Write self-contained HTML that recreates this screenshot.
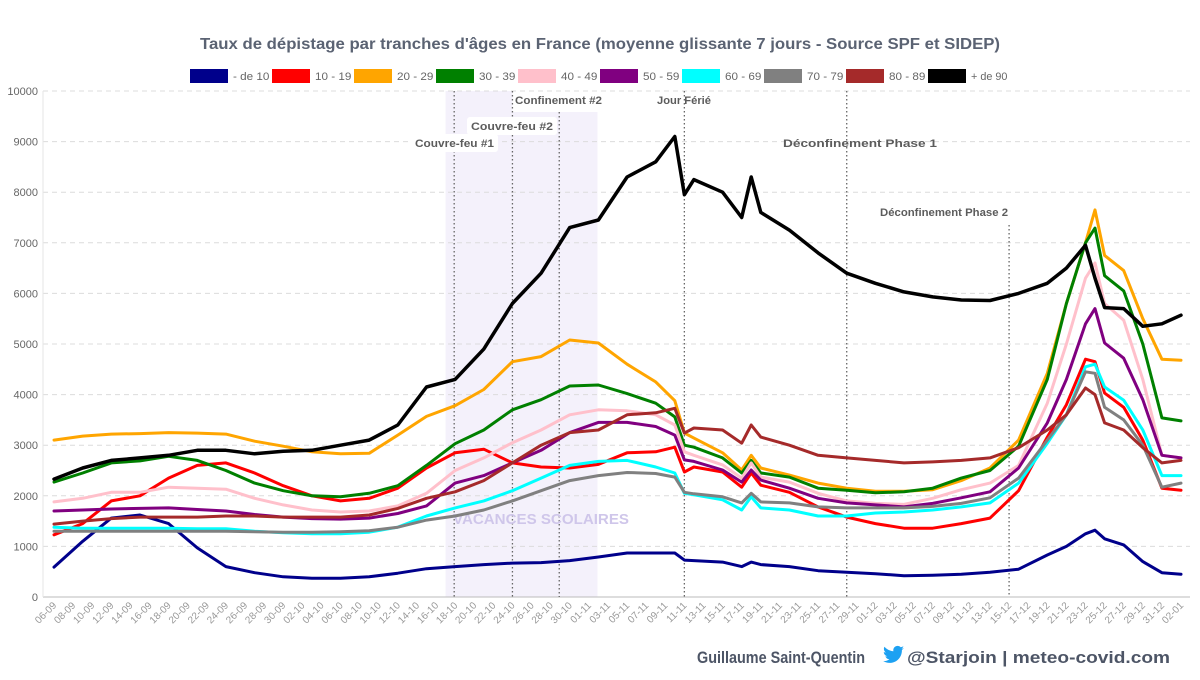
<!DOCTYPE html>
<html><head><meta charset="utf-8">
<style>
html,body{margin:0;padding:0;background:#fff;}
body{width:1200px;height:675px;overflow:hidden;font-family:"Liberation Sans",sans-serif;}
svg text{font-family:"Liberation Sans",sans-serif;}
</style></head>
<body>
<svg id="chart" width="1200" height="675" viewBox="0 0 1200 675" xmlns="http://www.w3.org/2000/svg">
<text x="200" y="49" textLength="800" lengthAdjust="spacingAndGlyphs" font-size="15.5" font-weight="bold" fill="#5b6373">Taux de dépistage par tranches d'âges en France (moyenne glissante 7 jours - Source SPF et SIDEP)</text>
<g id="bands"></g>
<g id="grid"></g>
<g id="events"></g>
<text x="453" y="524" textLength="176" lengthAdjust="spacingAndGlyphs" font-size="14.5" font-weight="bold" fill="#cfc6ea">VACANCES SCOLAIRES</text>
<g id="series"></g>
<g id="legend"></g>
<g id="xlabels"></g>
<g>
<text x="697" y="663" textLength="168" lengthAdjust="spacingAndGlyphs" font-size="17" font-weight="bold" fill="#4d5566">Guillaume Saint-Quentin</text>
<path d="M904 648c-.8.4-1.6.6-2.5.7.9-.5 1.6-1.400 1.900-2.400-.8.500-1.800.800-2.700 1-.8-.9-1.900-1.400-3.100-1.400-2.400 0-4.300 1.900-4.300 4.300 0 .3 0 .7.1 1-3.600-.2-6.700-1.900-8.900-4.500-.4.600-.6 1.400-.6 2.200 0 1.500.8 2.800 1.900 3.600-.7 0-1.400-.2-2-.5 0 2.100 1.500 3.800 3.500 4.200-.4.100-.8.200-1.100.200-.3 0-.5 0-.8-.1.500 1.700 2.100 2.900 4 3-1.500 1.200-3.300 1.800-5.400 1.800-.3 0-.7 0-1-.1 1.900 1.200 4.200 1.900 6.600 1.900 8 0 12.300-6.600 12.300-12.300v-.6c.8-.6 1.600-1.300 2.100-2.200z" fill="#1da1f2"/>
<text x="907" y="663" textLength="263" lengthAdjust="spacingAndGlyphs" font-size="17" font-weight="bold" fill="#4d5566">@Starjoin | meteo-covid.com</text>
</g>
</svg>
<script>
const dayIdx=[0,3,6,9,12,15,18,21,24,27,30,33,36,39,42,45,48,51,54,57,60,63,65,66,67,70,72,73,74,77,80,83,86,89,92,95,98,101,104,106,108,109,110,112,114,116,118];
const dateLabels=["06-09","08-09","10-09","12-09","14-09","16-09","18-09","20-09","22-09","24-09","26-09","28-09","30-09","02-10","04-10","06-10","08-10","10-10","12-10","14-10","16-10","18-10","20-10","22-10","24-10","26-10","28-10","30-10","01-11","03-11","05-11","07-11","09-11","11-11","13-11","15-11","17-11","19-11","21-11","23-11","25-11","27-11","29-11","01-12","03-12","05-12","07-12","09-12","11-12","13-12","15-12","17-12","19-12","21-12","23-12","25-12","27-12","29-12","31-12","02-01"];
const yTicks=[0,1000,2000,3000,4000,5000,6000,7000,8000,9000,10000];
const seriesNames=["- de 10","10 - 19","20 - 29","30 - 39","40 - 49","50 - 59","60 - 69","70 - 79","80 - 89","+ de 90"];
const seriesColors=["#00008b","#ff0000","#ffa500","#008000","#ffc0cb","#800080","#00ffff","#808080","#a52a2a","#000000"];
const v0_9=[590,1100,1560,1620,1450,970,600,480,400,370,370,400,470,560,600,640,670,680,720,790,870,870,870,730,720,690,600,690,640,600,520,490,460,420,430,450,490,550,830,1000,1250,1320,1150,1030,700,480,450];
const v10_19=[1230,1450,1900,2000,2350,2600,2650,2450,2200,2000,1900,1950,2150,2550,2850,2920,2650,2570,2550,2620,2850,2870,2960,2470,2570,2470,2170,2450,2210,2070,1780,1580,1450,1360,1360,1450,1560,2100,3160,3800,4700,4650,4030,3750,3100,2150,2110];
const v20_29=[3100,3180,3220,3230,3250,3240,3220,3080,2980,2870,2830,2840,3200,3570,3780,4100,4650,4750,5080,5020,4600,4250,3880,3240,3140,2850,2510,2800,2550,2410,2250,2150,2090,2090,2120,2300,2550,3100,4420,5800,7000,7650,6750,6450,5500,4700,4680];
const v30_39=[2270,2450,2650,2690,2780,2700,2500,2250,2100,2000,1980,2050,2200,2600,3030,3300,3700,3900,4170,4190,4020,3830,3560,3000,2960,2750,2450,2700,2450,2370,2150,2110,2060,2080,2150,2350,2500,2980,4300,5800,7000,7290,6350,6050,5000,3540,3480];
const v40_49=[1880,1950,2070,2070,2170,2150,2130,1950,1820,1720,1680,1700,1800,2050,2500,2750,3050,3300,3600,3700,3680,3600,3400,2870,2800,2610,2350,2650,2370,2270,2050,1900,1850,1830,1950,2120,2250,2600,3830,5000,6300,6600,5800,5470,4300,2800,2750];
const v50_59=[1700,1720,1740,1750,1760,1730,1700,1630,1580,1550,1540,1560,1650,1800,2250,2400,2650,2900,3250,3450,3450,3370,3200,2710,2680,2510,2270,2510,2310,2150,1950,1860,1820,1780,1850,1960,2080,2550,3440,4300,5400,5700,5020,4720,3900,2800,2750];
const v60_69=[1380,1360,1360,1360,1360,1350,1350,1300,1270,1250,1250,1280,1380,1600,1760,1900,2100,2350,2600,2680,2700,2570,2450,2050,2020,1920,1720,1980,1760,1720,1600,1600,1660,1680,1720,1780,1860,2250,3040,3600,4550,4600,4150,3890,3300,2400,2400];
const v70_79=[1300,1300,1300,1300,1300,1300,1300,1290,1280,1280,1290,1310,1380,1520,1600,1720,1900,2100,2300,2400,2460,2440,2370,2070,2040,1980,1860,2050,1880,1860,1780,1760,1760,1760,1790,1850,1960,2350,3100,3600,4450,4420,3750,3500,3000,2170,2250];
const v80_89=[1440,1500,1550,1580,1580,1580,1600,1600,1580,1580,1580,1620,1750,1950,2080,2300,2650,3000,3250,3300,3600,3640,3730,3240,3340,3300,3040,3400,3160,3000,2800,2750,2700,2650,2670,2700,2750,2950,3300,3600,4130,4000,3440,3300,2950,2650,2700];
const v90=[2330,2550,2700,2750,2800,2900,2900,2830,2880,2900,3000,3100,3400,4150,4300,4900,5800,6400,7300,7450,8300,8600,9100,7950,8250,8000,7500,8300,7600,7250,6800,6400,6200,6030,5930,5870,5860,6000,6200,6500,6950,6300,5720,5700,5350,5400,5570];
const seriesValues=[v0_9,v10_19,v20_29,v30_39,v40_49,v50_59,v60_69,v70_79,v80_89,v90];
const eventNames=["Couvre-feu #1","Couvre-feu #2","Confinement #2","Jour Férié","Déconfinement Phase 1","Déconfinement Phase 2"];
const eventDays=[41.9,48,52.9,66,83,100];
const bandDays=[41,56.9];

const NS="http://www.w3.org/2000/svg";
const X0=54,X1=1181,Y0=597,Y1=91,NDAYS=118,YMAX=10000;
const xs=d=>X0+(X1-X0)*d/NDAYS;
const ys=v=>Y0-(Y0-Y1)*v/YMAX;
function mk(tag,attrs,parent){const e=document.createElementNS(NS,tag);for(const k in attrs)e.setAttribute(k,attrs[k]);parent.appendChild(e);return e;}

const bands=document.getElementById('bands');
let b=mk('rect',{x:xs(bandDays[0]),y:112,width:xs(bandDays[1])-xs(bandDays[0]),height:Y0-112,fill:'#f4f1fb'},bands);


let b2=mk('rect',{x:xs(bandDays[0]),y:Y1,width:xs(eventDays[1])-xs(bandDays[0]),height:112-Y1,fill:'#f4f1fb'},bands);



const grid=document.getElementById('grid');
yTicks.forEach(t=>{
  const y=ys(t);
  if(t>0){const l=mk('line',{x1:43,x2:1190,y1:y,y2:y,stroke:'#dcdcdc','stroke-dasharray':'5,4','stroke-width':1},grid);
  
  }
  const tx=mk('text',{x:38,y:y+4,'text-anchor':'end','font-size':11,fill:'#666'},grid);
  tx.textContent=t;
  
  
});
const ax=mk('line',{x1:43,x2:1190,y1:Y0,y2:Y0,stroke:'#bbb','stroke-width':1},grid);


const ay=mk('line',{x1:43,x2:43,y1:Y1,y2:Y0,stroke:'#e6e6e6','stroke-width':1},grid);



const ev=document.getElementById('events');
const labelPos=[[415,147],[471,130],[515,104],[657,104],[783,147],[880,216]];
const labelW=[79,82,87,54,154,128];
const lineTop=[Y1,Y1,112,Y1,Y1,225];
eventDays.forEach((d,i)=>{
  const x=xs(d);
  const l=mk('line',{x1:x,x2:x,y1:lineTop[i],y2:Y0,stroke:'#666','stroke-width':1.3,'stroke-dasharray':'1.5,2.5'},ev);
  
  
});
eventNames.forEach((n,i)=>{
  const p=labelPos[i];
  if(i<2){const r=mk('rect',{x:p[0]-4,y:p[1]-13,width:labelW[i]+8,height:18,fill:'#fff',rx:3},ev);
  
  }
  const t=mk('text',{x:p[0],y:p[1],'font-size':11,'font-weight':'bold',fill:'#5c5c5c',textLength:labelW[i],lengthAdjust:'spacingAndGlyphs'},ev);
  t.textContent=n;
  
  
});

const sg=document.getElementById('series');
seriesValues.forEach((vals,si)=>{
  const pts=vals.map((v,k)=>xs(dayIdx[k]).toFixed(1)+','+ys(v).toFixed(1)).join(' ');
  const pl=mk('polyline',{points:pts,fill:'none',stroke:seriesColors[si],'stroke-width':si==9?3.5:3,'stroke-linejoin':'round','stroke-linecap':'round'},sg);
  
  
});

const lg=document.getElementById('legend');
seriesNames.forEach((n,i)=>{
  const x=190+i*82;
  const r=mk('rect',{x:x,y:69,width:38,height:14,fill:seriesColors[i]},lg);
  
  
  const t=mk('text',{x:x+43,y:80,'font-size':11,fill:'#666',textLength:(n.length*5.2),lengthAdjust:'spacingAndGlyphs'},lg);
  t.textContent=n;
  
  
});

const xl=document.getElementById('xlabels');
dateLabels.forEach((lab,i)=>{
  const x=xs(i*2);
  const t=mk('text',{x:x+3,y:606,'font-size':10,fill:'#999','text-anchor':'end',transform:`rotate(-45 ${x+3} 606)`},xl);
  t.textContent=lab;
  
  
});
</script>
</body></html>
